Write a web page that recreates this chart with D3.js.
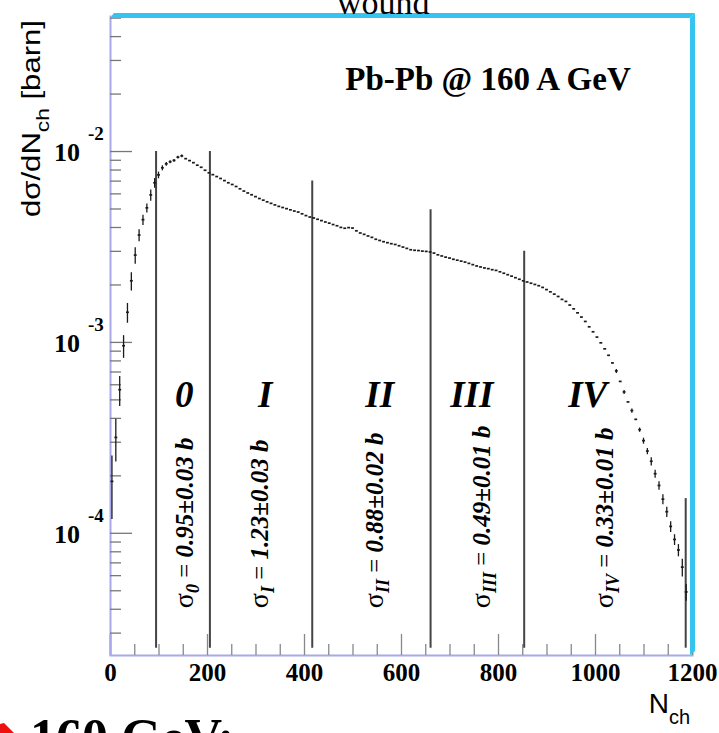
<!DOCTYPE html>
<html>
<head>
<meta charset="utf-8">
<script src="https://cdn.jsdelivr.net/npm/d3@7"></script>
<style>
  body { margin: 0; background: #fff; }
  svg { display: block; }
</style>
</head>
<body>
<div id="chart-container"></div>
<script>
// bin centres (N_ch) and dsigma/dN_ch [barn]
const nch = [
  4, 12, 20, 28, 36, 44, 52, 60, 68, 76,
  84, 92, 100, 108, 116, 124, 132, 140, 148, 156,
  164, 172, 180, 188, 196, 204, 212, 220, 228, 236,
  244, 252, 260, 268, 276, 284, 292, 300, 308, 316,
  324, 332, 340, 348, 356, 364, 372, 380, 388, 396,
  404, 412, 420, 428, 436, 444, 452, 460, 468, 476,
  484, 492, 500, 508, 516, 524, 532, 540, 548, 556,
  564, 572, 580, 588, 596, 604, 612, 620, 628, 636,
  644, 652, 660, 668, 676, 684, 692, 700, 708, 716,
  724, 732, 740, 748, 756, 764, 772, 780, 788, 796,
  804, 812, 820, 828, 836, 844, 852, 860, 868, 876,
  884, 892, 900, 908, 916, 924, 932, 940, 948, 956,
  964, 972, 980, 988, 996, 1004, 1012, 1020, 1028, 1036,
  1044, 1052, 1060, 1068, 1076, 1084, 1092, 1100, 1108, 1116,
  1124, 1132, 1140, 1148, 1156, 1164, 1172, 1180, 1188
];
const dsig = [
  1.86e-4, 3.16e-4, 5.62e-4, 9.55e-4, 1.43e-3, 2.09e-3, 2.85e-3, 3.63e-3, 4.37e-3, 5.04e-3,
  5.89e-3, 6.82e-3, 7.50e-3, 8.17e-3, 8.57e-3, 8.79e-3, 8.93e-3, 9.29e-3, 9.44e-3, 9.12e-3,
  8.91e-3, 8.69e-3, 8.43e-3, 8.22e-3, 7.93e-3, 7.69e-3, 7.52e-3, 7.35e-3, 7.18e-3, 7.00e-3,
  6.82e-3, 6.68e-3, 6.52e-3, 6.34e-3, 6.17e-3, 6.03e-3, 5.90e-3, 5.77e-3, 5.64e-3, 5.53e-3,
  5.42e-3, 5.32e-3, 5.22e-3, 5.13e-3, 5.06e-3, 4.99e-3, 4.92e-3, 4.85e-3, 4.79e-3, 4.69e-3,
  4.59e-3, 4.51e-3, 4.46e-3, 4.39e-3, 4.32e-3, 4.25e-3, 4.19e-3, 4.12e-3, 4.06e-3, 3.98e-3,
  3.94e-3, 3.97e-3, 3.95e-3, 3.82e-3, 3.72e-3, 3.66e-3, 3.59e-3, 3.53e-3, 3.45e-3, 3.40e-3,
  3.35e-3, 3.31e-3, 3.27e-3, 3.24e-3, 3.19e-3, 3.14e-3, 3.09e-3, 3.04e-3, 3.02e-3, 3.01e-3,
  2.99e-3, 2.98e-3, 2.96e-3, 2.92e-3, 2.86e-3, 2.82e-3, 2.78e-3, 2.75e-3, 2.71e-3, 2.68e-3,
  2.65e-3, 2.62e-3, 2.58e-3, 2.54e-3, 2.50e-3, 2.47e-3, 2.44e-3, 2.42e-3, 2.39e-3, 2.37e-3,
  2.33e-3, 2.29e-3, 2.25e-3, 2.21e-3, 2.17e-3, 2.13e-3, 2.09e-3, 2.06e-3, 2.03e-3, 2.00e-3,
  1.97e-3, 1.93e-3, 1.88e-3, 1.83e-3, 1.78e-3, 1.73e-3, 1.67e-3, 1.63e-3, 1.56e-3, 1.49e-3,
  1.42e-3, 1.35e-3, 1.28e-3, 1.20e-3, 1.13e-3, 1.06e-3, 9.89e-4, 9.20e-4, 8.51e-4, 7.76e-4,
  7.05e-4, 6.21e-4, 5.47e-4, 4.85e-4, 4.37e-4, 3.93e-4, 3.47e-4, 3.04e-4, 2.68e-4, 2.37e-4,
  2.04e-4, 1.77e-4, 1.50e-4, 1.29e-4, 1.08e-4, 9.23e-5, 8.13e-5, 6.61e-5, 4.90e-5
];
const binWidth = 8;

// visible error bars
const errN = [4, 12, 20, 28, 36, 44, 52, 60, 68, 76, 84, 92, 100, 108, 116, 124, 132, 140, 148,
  1044, 1060, 1076, 1092, 1100, 1108, 1116, 1124, 1132, 1140, 1148, 1156, 1164, 1172, 1180, 1188];
const errV = [0.68e-4, 0.8e-4, 1.0e-4, 1.3e-4, 1.7e-4, 2.3e-4, 2.8e-4, 2.6e-4, 2.7e-4, 2.7e-4,
  4e-4, 4e-4, 3e-4, 2.5e-4, 2e-4, 1.5e-4, 1.5e-4, 1.5e-4, 1.5e-4,
  1.7e-5, 1.3e-5, 1.1e-5, 0.9e-5, 1.1e-5, 1.0e-5, 1.2e-5, 1.0e-5, 0.9e-5, 0.9e-5,
  0.8e-5, 0.7e-5, 0.6e-5, 0.6e-5, 0.7e-5, 0.5e-5];

// centrality class boundaries
const cutN = [95, 206, 417, 661, 854, 1187];
const cutTop = [1.0e-2, 1.0e-2, 7.0e-3, 4.95e-3, 3.0e-3, 1.52e-4];
const cutBottom = 2.5e-5;

const classNames = ["0", "I", "II", "III", "IV"];
const classN = [153, 320, 556, 746, 985];
const sigmaSub = ["0", "I", "II", "III", "IV"];
const sigmaVal = ["0.95±0.03 b", "1.23±0.03 b", "0.88±0.02 b", "0.49±0.01 b", "0.33±0.01 b"];
const sigmaN = [171, 326, 563, 784, 1037];

const xMajor = [0, 200, 400, 600, 800, 1000, 1200];
const xMinor = [50, 100, 150, 250, 300, 350, 450, 500, 550, 650, 700, 750, 850, 900, 950, 1050, 1100, 1150];
const yMajor = [1e-2, 1e-3, 1e-4];
const yMinor = [3e-5, 4e-5, 5e-5, 6e-5, 7e-5, 8e-5, 9e-5,
  2e-4, 3e-4, 4e-4, 5e-4, 6e-4, 7e-4, 8e-4, 9e-4,
  2e-3, 3e-3, 4e-3, 5e-3, 6e-3, 7e-3, 8e-3, 9e-3,
  2e-2, 3e-2, 4e-2, 5e-2];

let width = 719;
let height = 733;
let margin = { top: 15, right: 27, bottom: 78, left: 110 };

const serif = "'Liberation Serif', 'Times New Roman', serif";
const sans = "'Liberation Sans', Arial, sans-serif";

var svg = d3
  .select("#chart-container")
  .append("svg")
  .attr("width", width)
  .attr("height", height);

let xScale = d3.scaleLinear().domain([0, 1200]).range([margin.left, width - margin.right]);
let yScale = d3.scaleLog().domain([2.29e-5, 5.16e-2]).range([height - margin.bottom, margin.top]);

const x0 = xScale.range()[0], x1 = xScale.range()[1];
const yB = yScale.range()[0], yT = yScale.range()[1];

// x axis: majors, minors
svg.append("g")
  .attr("transform", `translate(0,${yB})`)
  .call(d3.axisBottom(xScale).tickValues(xMajor).tickSize(-21).tickPadding(8).tickFormat(d3.format("d")))
  .call((g) => g.select(".domain").attr("stroke", "#a8a8ea").attr("stroke-width", 2))
  .call((g) => g.selectAll(".tick line").attr("stroke", "#888").attr("stroke-width", 1.3))
  .call((g) => g.selectAll(".tick text")
    .style("font-family", serif).style("font-size", "25px").style("font-weight", "bold").attr("fill", "#000"));

svg.append("g")
  .attr("transform", `translate(0,${yB})`)
  .call(d3.axisBottom(xScale).tickValues(xMinor).tickSize(-11).tickFormat(""))
  .call((g) => g.select(".domain").remove())
  .call((g) => g.selectAll(".tick line").attr("stroke", "#888").attr("stroke-width", 1.3));

// y axis
svg.append("g")
  .attr("transform", `translate(${x0},0)`)
  .call(d3.axisLeft(yScale).tickValues(yMajor).tickSize(-22).tickSizeOuter(0).tickFormat(""))
  .call((g) => g.select(".domain").attr("stroke", "#a8a8ea").attr("stroke-width", 2))
  .call((g) => g.selectAll(".tick line").attr("stroke", "#777").attr("stroke-width", 1.3));

svg.append("g")
  .attr("transform", `translate(${x0},0)`)
  .call(d3.axisLeft(yScale).tickValues(yMinor).tickSize(-11).tickFormat(""))
  .call((g) => g.select(".domain").remove())
  .call((g) => g.selectAll(".tick line").attr("stroke", "#777").attr("stroke-width", 1.3));

// 10^n labels
let yLab = svg.append("g")
  .selectAll("text")
  .data(yMajor)
  .enter()
  .append("g")
  .style("font-family", serif)
  .style("font-weight", "bold");
yLab.append("text")
  .attr("x", 80)
  .attr("y", (d) => yScale(d) + 10)
  .attr("text-anchor", "end")
  .style("font-size", "26px")
  .text("10");
yLab.append("text")
  .attr("x", 88)
  .attr("y", (d) => yScale(d) - 11)
  .style("font-size", "19px")
  .text((d) => Math.round(Math.log10(d)));

// frame (top and right, cyan)
svg.append("polygon")
  .attr("points", [[x0, yT + 3], [x0 + 4, yT - 2], [x1 + 3, yT - 2], [x1 - 2, yT + 3]].join(" "))
  .attr("fill", "#35c4ef");
svg.append("polygon")
  .attr("points", [[x1 - 2, yT + 3], [x1 + 3, yT - 2], [x1 + 3, yB - 4], [x1 - 2, yB]].join(" "))
  .attr("fill", "#35c4ef");

// class boundaries
svg.append("g")
  .selectAll("line")
  .data(cutN)
  .enter()
  .append("line")
  .attr("x1", (d) => xScale(d))
  .attr("x2", (d) => xScale(d))
  .attr("y1", (d, i) => yScale(cutTop[i]))
  .attr("y2", yScale(cutBottom))
  .attr("stroke", "#444")
  .attr("stroke-width", 2);

// histogram
svg.append("g")
  .selectAll("line")
  .data(nch)
  .enter()
  .append("line")
  .attr("x1", (d) => xScale(d - binWidth / 2) + 0.5)
  .attr("x2", (d) => xScale(d + binWidth / 2) - 0.5)
  .attr("y1", (d, i) => yScale(dsig[i]))
  .attr("y2", (d, i) => yScale(dsig[i]))
  .attr("stroke", "#1a1a1a")
  .attr("stroke-width", 1.7);

svg.append("g")
  .selectAll("line")
  .data(errN)
  .enter()
  .append("line")
  .attr("x1", (d) => xScale(d))
  .attr("x2", (d) => xScale(d))
  .attr("y1", (d, i) => yScale(dsig[nch.indexOf(d)] + errV[i]))
  .attr("y2", (d, i) => yScale(dsig[nch.indexOf(d)] - errV[i]))
  .attr("stroke", "#1a1a1a")
  .attr("stroke-width", 1.3);

// class names
svg.append("g")
  .selectAll("text")
  .data(classNames)
  .enter()
  .append("text")
  .attr("x", (d, i) => xScale(classN[i]))
  .attr("y", yScale(4.56e-4))
  .attr("text-anchor", "middle")
  .style("font-family", serif)
  .style("font-size", "37px")
  .style("font-weight", "bold")
  .style("font-style", "italic")
  .text((d) => d);

// sigma labels, rotated
let sig = svg.append("g")
  .selectAll("text")
  .data(sigmaVal)
  .enter()
  .append("text")
  .attr("transform", (d, i) => `translate(${xScale(sigmaN[i])},${yScale(4.03e-5)}) rotate(-90)`)
  .style("font-family", serif)
  .style("font-size", "25px");
sig.append("tspan").style("font-size", "28px").text("σ");
sig.append("tspan")
  .attr("dy", 6)
  .style("font-size", "18px")
  .style("font-weight", "bold")
  .style("font-style", "italic")
  .text((d, i) => sigmaSub[i]);
sig.append("tspan").attr("dy", -6).text(" = ");
sig.append("tspan")
  .style("font-weight", "bold")
  .style("font-style", "italic")
  .text((d) => d);

// system label
svg.append("text")
  .attr("x", xScale(485))
  .attr("y", yScale(0.0209))
  .style("font-family", serif)
  .style("font-size", "33px")
  .style("font-weight", "bold")
  .text("Pb-Pb @ 160 A GeV");

// axis titles
svg.append("text")
  .attr("transform", "translate(40,217) rotate(-90)")
  .style("font-family", sans)
  .style("font-size", "26px")
  .call((t) => {
    t.append("tspan").text("dσ/dN");
    t.append("tspan").attr("dy", 9).style("font-size", "19px").text("ch");
    t.append("tspan").attr("dy", -9).text(" [barn]");
  })
  .attr("textLength", 197)
  .attr("lengthAdjust", "spacingAndGlyphs");

svg.append("text")
  .attr("x", 690)
  .attr("y", 713)
  .attr("text-anchor", "end")
  .style("font-family", sans)
  .style("font-size", "28px")
  .call((t) => {
    t.append("tspan").text("N");
    t.append("tspan").attr("dy", 11).style("font-size", "20px").text("ch");
  });

// cropped slide text around the figure
svg.append("text")
  .attr("x", 337)
  .attr("y", 14)
  .style("font-family", serif)
  .style("font-size", "34px")
  .text("wound");

svg.append("polygon")
  .attr("points", "0,724 4,723 14,733 0,733")
  .attr("fill", "#ee1111");

svg.append("text")
  .attr("x", 30)
  .attr("y", 755)
  .style("font-family", serif)
  .style("font-size", "52px")
  .style("font-weight", "bold")
  .text("160 GeV:");
</script>
</body>
</html>
